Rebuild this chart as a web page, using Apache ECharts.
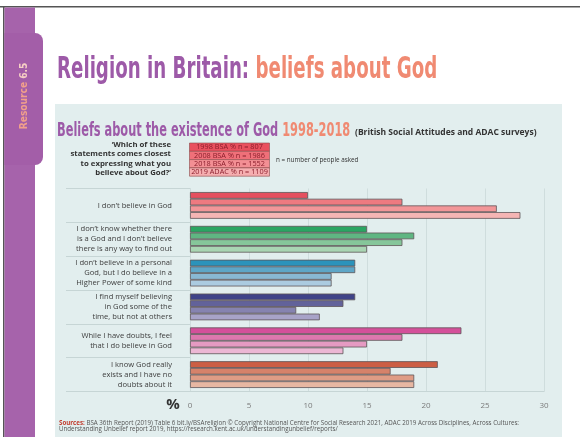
<!DOCTYPE html>
<html><head><meta charset="utf-8">
<script src="https://cdn.jsdelivr.net/npm/echarts@6/dist/echarts.min.js"></script>
<style>html,body{margin:0;padding:0;background:#fff}#c{width:580px;height:437px}</style>
</head><body><div id="c"></div><script>
// ---- data ----
const categories = [
  "I don\u2019t believe in God",
  "I don\u2019t know whether there\nis a God and I don\u2019t believe\nthere is any way to find out",
  "I don\u2019t believe in a personal\nGod, but I do believe in a\nHigher Power of some kind",
  "I find myself believing\nin God some of the\ntime, but not at others",
  "While I have doubts, I feel\nthat I do believe in God",
  "I know God really\nexists and I have no\ndoubts about it"
];
const surveyNames = ["1998 BSA % n = 807", "2008 BSA % n = 1986", "2018 BSA % n = 1552", "2019 ADAC % n = 1109"];
const bsa1998  = [10, 15, 14, 14, 23, 21];
const bsa2008  = [18, 19, 14, 13, 18, 17];
const bsa2018  = [26, 18, 12, 9, 15, 19];
const adac2019 = [28, 15, 12, 11, 13, 19];
const xTickValues = [0, 5, 10, 15, 20, 25, 30];

// ---- styles ----
const palette = [
  ['#e5505f', '#ee7a80', '#f29698', '#f5b5b4'],
  ['#2aa562', '#5fb682', '#86c69a', '#a9d5b3'],
  ['#2b93bb', '#5ea6c7', '#89b8d3', '#abcbe0'],
  ['#3f4388', '#62629a', '#8683b0', '#a8a3c8'],
  ['#d4509a', '#dd78ae', '#e59ac2', '#ecb7d4'],
  ['#cc5e44', '#d6826a', '#df9c85', '#e7b7a2']
];
const legendColors = ['#e9505e', '#ef7079', '#f38f94', '#f6aeb0'];
const seriesData = [bsa1998, bsa2008, bsa2018, adac2019];
const PURPLE = '#9d5aa8', SALMON = '#f08a72', PANEL = '#e2eeee', LINE = '#c6d5d5';

const chart = echarts.init(document.getElementById('c'), null, {renderer: 'canvas'});

const series = seriesData.map((vals, s) => ({
  type: 'bar',
  name: surveyNames[s],
  barGap: '0%',
  barCategoryGap: '21%',
  data: vals.map((v, i) => ({value: v, itemStyle: {color: palette[i][s]}})),
  itemStyle: {borderColor: '#5e5558', borderWidth: 0.8},
  silent: true,
  z: 3
}));

const graphics = [
  // panel
  {type: 'rect', z: -20, shape: {x: 55, y: 104, width: 507, height: 333}, style: {fill: PANEL}},
  // top & left frame lines
  {type: 'rect', z: -15, shape: {x: 0, y: 6, width: 580, height: 1.5}, style: {fill: '#555'}},
  {type: 'rect', z: -15, shape: {x: 3, y: 6, width: 1.5, height: 431}, style: {fill: '#555'}},
  // purple strip & tab
  {type: 'rect', z: -14, shape: {x: 4.5, y: 7.5, width: 30.5, height: 430}, style: {fill: '#a663ab'}},
  {type: 'rect', z: -13, shape: {x: 4.5, y: 33, width: 38.5, height: 132, r: [0, 8, 8, 0]}, style: {fill: '#a35ea8'}},
  {type: 'text', z: 10, x: 24, y: 96, rotation: Math.PI / 2, scaleX: 0.92,
    style: {text: '{a|Resource} {b|6.5}', align: 'center', verticalAlign: 'middle',
      rich: {a: {fill: '#f2a08a', font: 'bold 11px "DejaVu Sans Condensed"'},
             b: {fill: '#f6cfc4', font: 'bold 11px "DejaVu Sans Condensed"'}}}},
  // title
  {type: 'text', z: 10, x: 57, y: 70, scaleX: 0.675,
    style: {text: '{a|Religion in Britain: }{b|beliefs about God}', verticalAlign: 'middle',
      rich: {a: {fill: PURPLE, font: 'bold 30px "DejaVu Sans Condensed"'},
             b: {fill: SALMON, font: 'bold 30px "DejaVu Sans Condensed"'}}}},
  // subtitle
  {type: 'text', z: 10, x: 57, y: 131, scaleX: 0.632,
    style: {text: '{a|Beliefs about the existence of God }{b|1998-2018}', verticalAlign: 'middle',
      rich: {a: {fill: PURPLE, font: 'bold 20px "DejaVu Sans Condensed"'},
             b: {fill: SALMON, font: 'bold 20px "DejaVu Sans Condensed"'}}}},
  {type: 'text', z: 10, x: 355, y: 133,
    style: {text: '(British Social Attitudes and ADAC surveys)', verticalAlign: 'middle',
      fill: '#333', font: 'bold 8.5px "Open Sans"'}},
  // question
  {type: 'text', z: 10, x: 171, y: 140,
    style: {text: '\u2018Which of these\nstatements comes closest\nto expressing what you\nbelieve about God?\u2019',
      align: 'right', verticalAlign: 'top', lineHeight: 9.4, fill: '#333', font: 'bold 7.8px "Open Sans"'}},
  {type: 'text', z: 10, x: 276, y: 160,
    style: {text: 'n = number of people asked', verticalAlign: 'middle', fill: '#333', font: '6.3px "Open Sans"'}},
  // axis unit
  {type: 'text', z: 10, x: 173, y: 405,
    style: {text: '%', align: 'center', verticalAlign: 'middle', fill: '#333', font: 'bold 15px "Open Sans"'}},
  // footer
  {type: 'text', z: 10, x: 59, y: 419.5,
    style: {text: '{r|Sources:} BSA 36th Report (2019) Table 6 bit.ly/BSAreligion \u00a9 Copyright National Centre for Social Research 2021, ADAC 2019 Across Disciplines, Across Cultures:\nUnderstanding Unbelief report 2019, https://research.kent.ac.uk/understandingunbelief/reports/',
      verticalAlign: 'top', lineHeight: 6.6, fill: '#555', font: '6.2px "Open Sans"',
      rich: {r: {fill: '#c0392b', font: 'bold 6.2px "Open Sans"'}}}}
];
// legend boxes
surveyNames.forEach((n, i) => {
  graphics.push({type: 'rect', z: 10, shape: {x: 189.5, y: 143 + i * 8.3, width: 80, height: 8.3},
    style: {fill: legendColors[i], stroke: '#8a4a4a', lineWidth: 0.6}});
  graphics.push({type: 'text', z: 11, x: 229.5, y: 147.3 + i * 8.3,
    style: {text: n, align: 'center', verticalAlign: 'middle', fill: '#8a1e2c', font: '7.3px "Open Sans"'}});
});

chart.setOption({
  animation: false,
  backgroundColor: '#fff',
  grid: {left: 190, right: 36, top: 188.5, bottom: 45.5, containLabel: false},
  xAxis: {
    type: 'value', min: 0, max: 30, interval: 5,
    axisLine: {show: true, lineStyle: {color: LINE, width: 1}},
    axisTick: {show: false},
    splitLine: {show: true, lineStyle: {color: '#cfdddd', width: 1}},
    axisLabel: {color: '#7a7a7a', fontSize: 8, fontFamily: 'Open Sans', margin: 10,
      formatter: v => xTickValues.includes(v) ? String(v) : ''}
  },
  yAxis: {
    type: 'category', inverse: true, data: categories,
    axisLine: {show: true, lineStyle: {color: '#cfdddd'}},
    axisTick: {show: true, length: 124, lineStyle: {color: LINE}},
    axisLabel: {color: '#3d3d3d', fontSize: 7.6, fontFamily: 'Open Sans', lineHeight: 10, margin: 18, align: 'right'}
  },
  series: series,
  graphic: graphics
});
</script></body></html>
